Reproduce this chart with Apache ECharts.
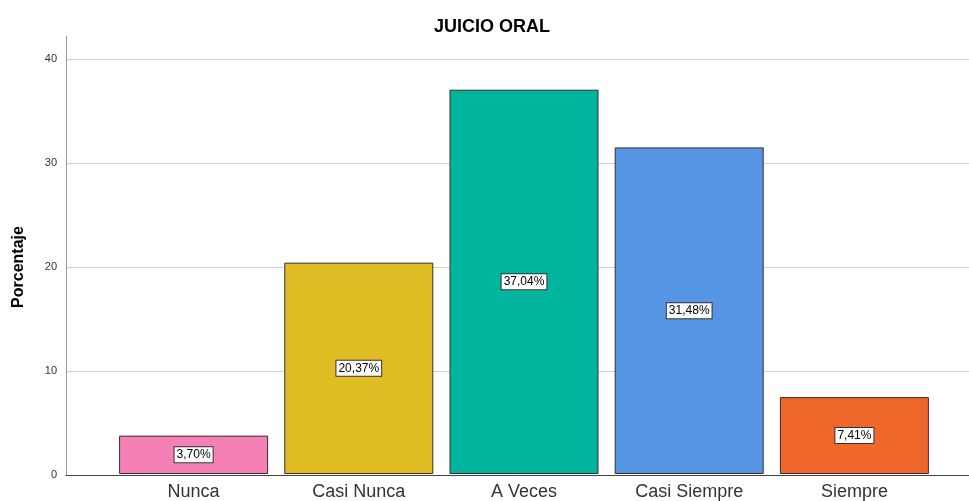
<!DOCTYPE html>
<html><head><meta charset="utf-8">
<script src="https://cdn.jsdelivr.net/npm/echarts@6/dist/echarts.min.js"></script>
<style>html,body{margin:0;padding:0;background:#fff}#c{width:969px;height:501px}</style>
</head><body><div id="c"></div>
<script>
const categories = ['Nunca', 'Casi Nunca', 'A Veces', 'Casi Siempre', 'Siempre'];
const values = [3.70, 20.37, 37.04, 31.48, 7.41];
const colors = ['#F580B6', '#E0BD24', '#00B49E', '#5595E3', '#F0672B'];
const yTicks = [0, 10, 20, 30, 40];

const FONT = '"Liberation Sans", Arial, sans-serif';
const chart = echarts.init(document.getElementById('c'));
chart.setOption({
  animation: false,
  backgroundColor: '#fff',
  title: {
    text: 'JUICIO ORAL', left: 487, top: 13, textAlign: 'center',
    textStyle: { fontFamily: FONT, fontSize: 18, fontWeight: 'bold', color: '#000' }
  },
  grid: [
    { left: 66, right: 0, top: 36, bottom: 26 },
    { left: 66, right: 0, top: 59, bottom: 26 },
    { left: 111, right: 32, top: 59, bottom: 26 }
  ],
  xAxis: [
    { gridIndex: 0, type: 'value', show: false, min: 0, max: 1 },
    { gridIndex: 1, type: 'value', min: 0, max: 1,
      axisLine: { show: true, lineStyle: { color: '#444', width: 1 } },
      axisTick: { show: false }, axisLabel: { show: false }, splitLine: { show: false } },
    { gridIndex: 2, type: 'category', data: categories,
      axisLine: { show: false }, axisTick: { show: false },
      axisLabel: { fontFamily: FONT, fontSize: 18, color: '#333', margin: 9 } }
  ],
  yAxis: [
    { gridIndex: 0, type: 'value', min: 0, max: 40 * 439 / 416,
      axisLine: { show: true, lineStyle: { color: '#999', width: 1 } },
      axisTick: { show: false }, axisLabel: { show: false }, splitLine: { show: false } },
    { gridIndex: 1, type: 'value', min: yTicks[0], max: yTicks[yTicks.length - 1], interval: 10,
      axisLine: { show: false }, axisTick: { show: false },
      axisLabel: { fontFamily: FONT, fontSize: 11, color: '#333', margin: 9 },
      splitLine: { show: true, lineStyle: { color: '#cfcfcf', width: 1 } },
      name: 'Porcentaje', nameLocation: 'middle', nameGap: 39,
      nameTextStyle: { fontFamily: FONT, fontSize: 16, fontWeight: 'bold', color: '#000' } },
    { gridIndex: 2, type: 'value', min: 0, max: 40, show: false }
  ],
  series: [{
    type: 'bar', xAxisIndex: 2, yAxisIndex: 2,
    barWidth: 149,
    data: values.map((v, i) => ({ value: v, itemStyle: { color: colors[i] } })),
    itemStyle: { borderColor: '#3a2a30', borderWidth: 1 },
    label: {
      show: true, position: 'inside',
      formatter: p => p.value.toFixed(2).replace('.', ',') + '%',
      fontFamily: FONT, fontSize: 12, color: '#000',
      backgroundColor: '#fff', borderColor: '#333', borderWidth: 1,
      padding: [2, 2, 1, 2]
    }
  }]
});
</script></body></html>
